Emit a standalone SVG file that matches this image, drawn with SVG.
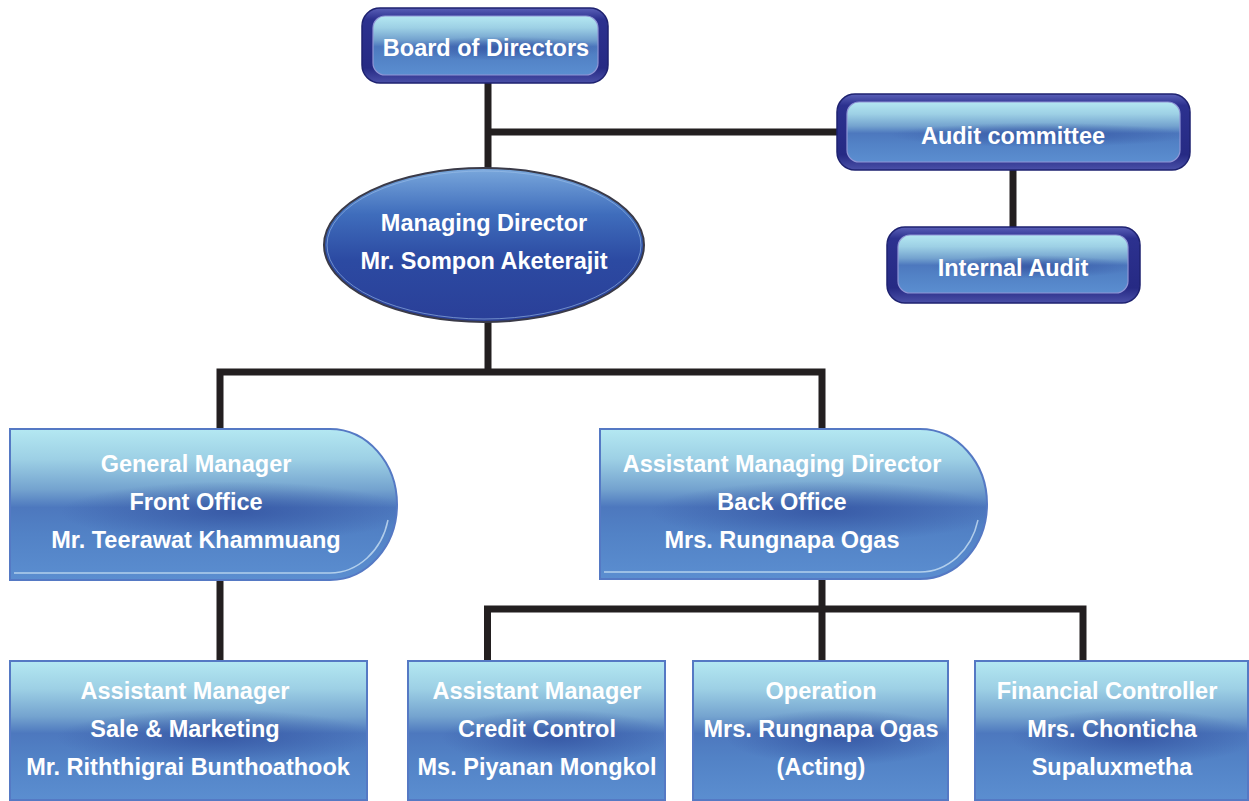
<svg xmlns="http://www.w3.org/2000/svg" width="1249" height="801" viewBox="0 0 1249 801">
<style>
.t{font-family:"Liberation Sans",Arial,sans-serif;font-size:23.5px;font-weight:bold;fill:#ffffff;text-anchor:middle}
.ln{fill:none;stroke:#231f20;stroke-width:7;stroke-linejoin:miter;stroke-linecap:butt}
.box{fill:url(#gBox);stroke:#5579c4;stroke-width:2}
.shade{fill:url(#gShade)}
.frame{fill:url(#gFrame);stroke:#1e2270;stroke-width:1.5}
.inner{fill:url(#gBox);stroke:#8f96d6;stroke-width:1.2}
.hl{fill:none;stroke:#d8ecfa;stroke-width:1.5;opacity:0.7}
</style>
<defs>
<linearGradient id="gBox" x1="0" y1="0" x2="0" y2="1">
<stop offset="0" stop-color="#b4e8f2"/>
<stop offset="0.2" stop-color="#9dd0e5"/>
<stop offset="0.4" stop-color="#74a3cf"/>
<stop offset="0.52" stop-color="#4d78be"/>
<stop offset="0.7" stop-color="#5282c6"/>
<stop offset="1" stop-color="#5b8ed0"/>
</linearGradient>
<radialGradient id="gShade" cx="0.58" cy="0.55" r="0.45" gradientTransform="translate(0.58 0.55) scale(1 0.45) translate(-0.58 -0.55)">
<stop offset="0" stop-color="#2f4d9c" stop-opacity="0.7"/>
<stop offset="1" stop-color="#2f4d9c" stop-opacity="0"/>
</radialGradient>
<linearGradient id="gFrame" x1="0" y1="0" x2="0" y2="1">
<stop offset="0" stop-color="#5a60b8"/>
<stop offset="0.15" stop-color="#2c318f"/>
<stop offset="0.8" stop-color="#262a84"/>
<stop offset="1" stop-color="#4a50a8"/>
</linearGradient>
<linearGradient id="gEll" x1="0" y1="0" x2="0" y2="1">
<stop offset="0" stop-color="#7aa8dc"/>
<stop offset="0.3" stop-color="#3f6dbc"/>
<stop offset="0.6" stop-color="#2c4aa2"/>
<stop offset="1" stop-color="#2a3f98"/>
</linearGradient>
</defs>

<g id="connectors">
<path class="ln" d="M488,82 V170"/>
<path class="ln" d="M488,132 H838"/>
<path class="ln" d="M1013,170 V228"/>
<path class="ln" d="M488,321 V372"/>
<path class="ln" d="M220,432 V372 H822 V432"/>
<path class="ln" d="M220,579 V661"/>
<path class="ln" d="M822,578 V661"/>
<path class="ln" d="M487.5,661 V609 H1083 V661"/>
</g>

<g id="board">
<rect class="frame" x="362" y="8" width="246" height="75" rx="18"/>
<rect class="inner" x="373" y="16" width="225" height="59" rx="12"/>
<rect class="shade" x="373" y="16" width="225" height="59" rx="12"/>
<text class="t" x="486" y="56">Board of Directors</text>
</g>

<g id="audit-committee">
<rect class="frame" x="837" y="94" width="353" height="76" rx="18"/>
<rect class="inner" x="847" y="102" width="333" height="60" rx="12"/>
<rect class="shade" x="847" y="102" width="333" height="60" rx="12"/>
<text class="t" x="1013" y="144">Audit committee</text>
</g>

<g id="internal-audit">
<rect class="frame" x="887" y="227" width="253" height="76" rx="18"/>
<rect class="inner" x="898" y="235" width="230" height="58" rx="12"/>
<rect class="shade" x="898" y="235" width="230" height="58" rx="12"/>
<text class="t" x="1013" y="276">Internal Audit</text>
</g>

<g id="managing-director">
<ellipse cx="484" cy="245" rx="160" ry="77" fill="url(#gEll)" stroke="#3a3a48" stroke-width="2"/>
<ellipse cx="484" cy="245" rx="157" ry="74" fill="none" stroke="#9cc0ea" stroke-width="1" opacity="0.6"/>
<text class="t" x="484" y="231">Managing Director</text>
<text class="t" x="484" y="269">Mr. Sompon Aketerajit</text>
</g>

<g id="general-manager">
<path class="box" d="M10,429 H330 A67,75.5 0 0 1 330,580 H10 Z"/>
<path class="shade" d="M10,429 H330 A67,75.5 0 0 1 330,580 H10 Z"/>
<path class="hl" d="M14,573 H330 A60,68 0 0 0 388,520"/>
<text class="t" x="196" y="472">General Manager</text>
<text class="t" x="196" y="510">Front Office</text>
<text class="t" x="196" y="548">Mr. Teerawat Khammuang</text>
</g>

<g id="assistant-managing-director">
<path class="box" d="M600,429 H920 A67,75 0 0 1 920,579 H600 Z"/>
<path class="shade" d="M600,429 H920 A67,75 0 0 1 920,579 H600 Z"/>
<path class="hl" d="M604,572 H920 A60,68 0 0 0 978,520"/>
<text class="t" x="782" y="472">Assistant Managing Director</text>
<text class="t" x="782" y="510">Back Office</text>
<text class="t" x="782" y="548">Mrs. Rungnapa Ogas</text>
</g>

<g id="sales-marketing">
<rect class="box" x="10" y="661" width="357" height="139"/>
<rect class="shade" x="10" y="661" width="357" height="139"/>
<text class="t" x="185" y="699">Assistant Manager</text>
<text class="t" x="185" y="737">Sale &amp; Marketing</text>
<text class="t" x="188" y="775">Mr. Riththigrai Bunthoathook</text>
</g>

<g id="credit-control">
<rect class="box" x="408" y="661" width="257" height="139"/>
<rect class="shade" x="408" y="661" width="257" height="139"/>
<text class="t" x="537" y="699">Assistant Manager</text>
<text class="t" x="537" y="737">Credit Control</text>
<text class="t" x="537" y="775">Ms. Piyanan Mongkol</text>
</g>

<g id="operation">
<rect class="box" x="693" y="661" width="255" height="139"/>
<rect class="shade" x="693" y="661" width="255" height="139"/>
<text class="t" x="821" y="699">Operation</text>
<text class="t" x="821" y="737">Mrs. Rungnapa Ogas</text>
<text class="t" x="821" y="775">(Acting)</text>
</g>

<g id="financial-controller">
<rect class="box" x="975" y="661" width="273" height="139"/>
<rect class="shade" x="975" y="661" width="273" height="139"/>
<text class="t" x="1107" y="699">Financial Controller</text>
<text class="t" x="1112" y="737">Mrs. Chonticha</text>
<text class="t" x="1112" y="775">Supaluxmetha</text>
</g>
</svg>
